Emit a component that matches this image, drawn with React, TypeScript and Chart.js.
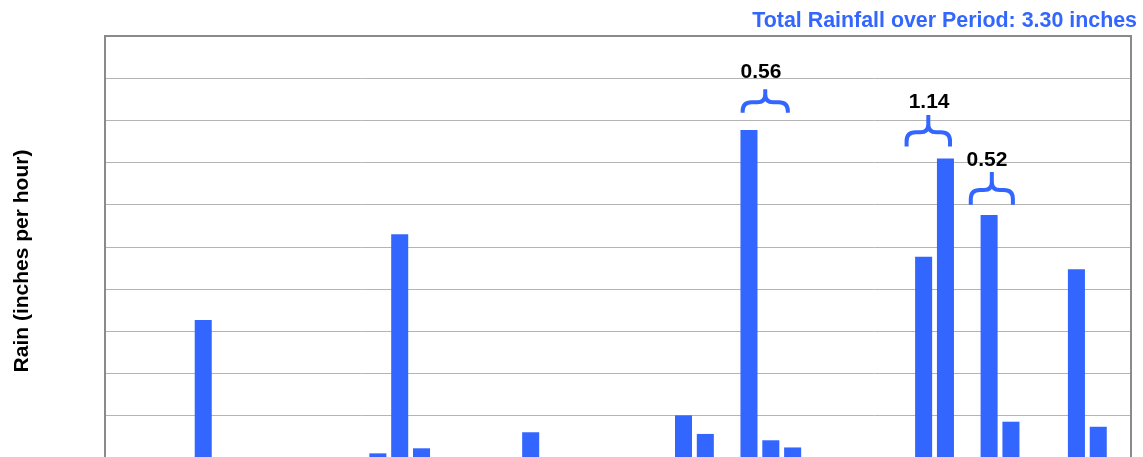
import { useEffect, useRef } from "react";
import { Chart, registerables } from "chart.js";

Chart.register(...registerables);

// ---- data ----
const hours = [
  "00", "01", "02", "03", "04", "05", "06", "07", "08", "09",
  "10", "11", "12", "13", "14", "15", "16", "17", "18", "19",
  "20", "21", "22", "23", "24", "25", "26", "27", "28", "29",
  "30", "31", "32", "33", "34", "35", "36", "37", "38", "39",
  "40", "41", "42", "43", "44", "45", "46",
];
const rainfall = [
  0, 0, 0, 0, 0.327, 0, 0, 0, 0, 0,
  0, 0, 0.011, 0.53, 0.023, 0, 0, 0, 0, 0.061,
  0, 0, 0, 0, 0, 0, 0.101, 0.057, 0, 0.777,
  0.042, 0.025, 0, 0, 0, 0, 0, 0.477, 0.71, 0,
  0.576, 0.086, 0, 0, 0.447, 0.074, 0,
];
const totalLabel = "Total Rainfall over Period: 3.30 inches";
const yAxisTitle = "Rain (inches per hour)";
const yMin = 0;
const yMax = 1.0;
const yStep = 0.1;

// storm totals shown with braces (positions in data units: category index / inches)
const braceTotals = ["0.56", "1.14", "0.52"];
const braceFrom = [28.71, 36.22, 39.16];
const braceTo = [30.78, 38.21, 41.09];
const bracePeak = [0.874, 0.813, 0.678];
const braceEnd = [0.818, 0.738, 0.6];
const braceTextAt = [29.55, 37.25, 39.9];
const braceTextBase = [0.9, 0.829, 0.692];

const BLUE = "#3366ff";
const FONT = '"Liberation Sans", Arial, sans-serif';

const overlay = {
  id: "overlay",
  afterDraw(chart: any) {
    const { ctx, chartArea } = chart;
    const xs = chart.scales.x;
    const ys = chart.scales.y;
    ctx.save();
    // frame
    ctx.strokeStyle = "#8a8a8a";
    ctx.lineWidth = 2;
    ctx.strokeRect(chartArea.left, chartArea.top, chartArea.right - chartArea.left, chartArea.bottom - chartArea.top);

    // title
    ctx.fillStyle = BLUE;
    ctx.font = `bold 21.4px ${FONT}`;
    ctx.textAlign = "right";
    ctx.textBaseline = "alphabetic";
    ctx.fillText(totalLabel, 1137, 27);

    // y axis title
    ctx.save();
    ctx.translate(28, 261);
    ctx.rotate(-Math.PI / 2);
    ctx.fillStyle = "#000";
    ctx.font = `bold 21px ${FONT}`;
    ctx.textAlign = "center";
    ctx.fillText(yAxisTitle, 0, 0);
    ctx.restore();

    // braces
    for (let i = 0; i < braceTotals.length; i++) {
      const L = xs.getPixelForValue(braceFrom[i]);
      const R = xs.getPixelForValue(braceTo[i]);
      const M = (L + R) / 2;
      const top = ys.getPixelForValue(bracePeak[i]);
      const bot = ys.getPixelForValue(braceEnd[i]);
      const h = top + (bot - top) * 0.55;
      const r1 = Math.min(9, (bot - h) * 0.95);
      const r2 = Math.min(8, (h - top) * 0.8);
      ctx.beginPath();
      ctx.moveTo(L, bot);
      ctx.lineTo(L, h + r1);
      ctx.quadraticCurveTo(L, h, L + r1, h);
      ctx.lineTo(M - r2, h);
      ctx.quadraticCurveTo(M, h, M, h - r2);
      ctx.lineTo(M, top);
      ctx.moveTo(M, h - r2);
      ctx.quadraticCurveTo(M, h, M + r2, h);
      ctx.lineTo(R - r1, h);
      ctx.quadraticCurveTo(R, h, R, h + r1);
      ctx.lineTo(R, bot);
      ctx.strokeStyle = BLUE;
      ctx.lineWidth = 4;
      ctx.lineJoin = "round";
      ctx.stroke();

      ctx.fillStyle = "#000";
      ctx.font = `bold 21px ${FONT}`;
      ctx.textAlign = "center";
      ctx.textBaseline = "alphabetic";
      ctx.fillText(braceTotals[i], xs.getPixelForValue(braceTextAt[i]), ys.getPixelForValue(braceTextBase[i]));
    }
    ctx.restore();
  },
};

export default function App() {
  const ref = useRef<HTMLCanvasElement | null>(null);
  useEffect(() => {
    document.body.style.margin = "0";
    document.body.style.overflow = "hidden";
    const canvas = ref.current!;
    const chart = new Chart(canvas, {
      type: "bar",
      data: {
        labels: hours,
        datasets: [
          {
            data: rainfall,
            backgroundColor: BLUE,
            borderWidth: 0,
            barPercentage: 0.78,
            categoryPercentage: 1,
          },
        ],
      },
      options: {
        animation: false,
        responsive: false,
        maintainAspectRatio: false,
        layout: { padding: { left: 105, right: 12, top: 36, bottom: 62 } },
        plugins: { legend: { display: false }, tooltip: { enabled: false }, title: { display: false } },
        scales: {
          x: {
            grid: { display: false, drawTicks: false },
            border: { display: false },
            ticks: { display: false },
          },
          y: {
            min: yMin,
            max: yMax,
            ticks: { display: false, stepSize: yStep },
            grid: { color: "#b4b4b4", lineWidth: 1, drawTicks: false },
            border: { display: false },
          },
        },
      },
      plugins: [overlay],
    });
    return () => chart.destroy();
  }, []);
  return (
    <div style={{ position: "absolute", left: 0, top: 0, width: 1143, height: 520 }}>
      <canvas ref={ref} width={1143} height={520} style={{ width: 1143, height: 520, display: "block" }} />
    </div>
  );
}
